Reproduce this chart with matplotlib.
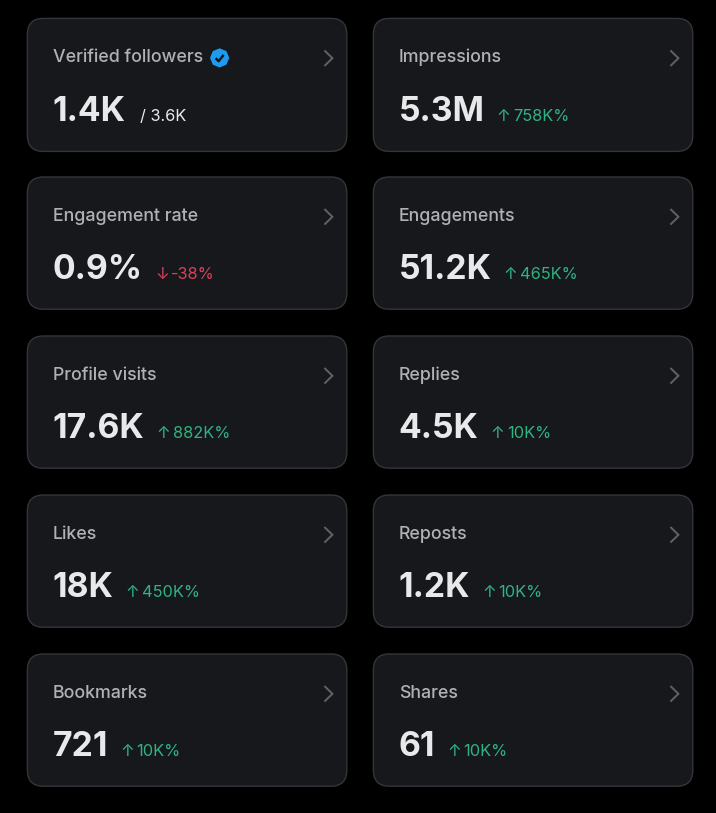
import matplotlib
matplotlib.use("Agg")
import matplotlib.pyplot as plt
from matplotlib.patches import FancyBboxPatch, Circle, RegularPolygon

titles = ["Verified followers", "Impressions", "Engagement rate", "Engagements",
          "Profile visits", "Replies", "Likes", "Reposts", "Bookmarks", "Shares"]
values = ["1.4K", "5.3M", "0.9%", "51.2K", "17.6K", "4.5K", "18K", "1.2K", "721", "61"]
arrows = ["", "↑", "↓", "↑", "↑", "↑", "↑", "↑", "↑", "↑"]
deltas = ["/ 3.6K", "758K%", "-38%", "465K%", "882K%", "10K%", "450K%", "10K%", "10K%", "10K%"]
tones = ["neutral", "up", "down", "up", "up", "up", "up", "up", "up", "up"]

PALETTE = {"neutral": "#e7e9ea", "up": "#30b383", "down": "#dc4159"}
W, H = 716, 813
SANS = ["Inter", "DejaVu Sans"]

fig = plt.figure(figsize=(W / 100, H / 100), dpi=100, facecolor="black")
ax = fig.add_axes([0, 0, 1, 1])
ax.set_xlim(0, W)
ax.set_ylim(H, 0)
ax.axis("off")
r = fig.canvas.get_renderer()

for i, (t, v, a, d, tone) in enumerate(zip(titles, values, arrows, deltas, tones)):
    col, row = i % 2, i // 2
    x0 = 27.4 + col * 346
    y0 = 18.4 + row * 159 - (0.4 if row else 0)
    h = 133 if row == 0 else 132.2
    ax.add_patch(FancyBboxPatch((x0 + 16, y0 + 16), 319.4 - 32, h - 32,
                                boxstyle="round,pad=16,rounding_size=16",
                                fc="#16181c", ec="#333639", lw=1.0))
    tt = ax.text(x0 + 25.6, y0 + 43.6, t, color="#aeb1b5", fontsize=12.8, family=SANS,
                 fontweight="medium", va="baseline", ha="left")
    if i == 0:
        e = tt.get_window_extent(r)
        bx, by = e.x1 + 17, y0 + 39.5
        ax.add_patch(Circle((bx - 0.5, by), 8.0, fc="#1d9bf0", ec="none"))
        ax.add_patch(RegularPolygon((bx - 0.5, by), 8, radius=9.6, fc="#1d9bf0", ec="none"))
        ax.plot([bx - 4.5, bx - 1.5, bx + 3.5], [by + 0.3, by + 3.3, by - 3], color="#16181c",
                lw=1.8, solid_capstyle="butt")
    base = y0 + 102.4
    vt = ax.text(x0 + 25.4, base, v, color="#e7e9ea", fontsize=24.3, fontweight="bold",
                 family=SANS, va="baseline", ha="left")
    px = vt.get_window_extent(r).x1
    c = PALETTE[tone]
    if a:
        at = ax.text(px + 12, base, a, color=c, fontsize=11.8, family=SANS,
                     va="baseline", ha="left")
        px = at.get_window_extent(r).x1 + 2.5
        gap = 0
    else:
        gap = 14
    ax.text(px + gap, base, d, color=c, fontsize=11.8, family=SANS, va="baseline", ha="left")
    ax.plot([x0 + 297, x0 + 305, x0 + 297], [y0 + 32, y0 + 39.8, y0 + 47.6], color="#5f6367",
            lw=1.4, solid_joinstyle="miter", solid_capstyle="butt")

fig.savefig("out.png", dpi=100, facecolor="black")
